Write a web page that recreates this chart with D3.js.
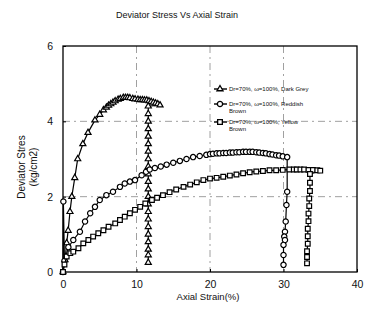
<!DOCTYPE html>
<html>
<script src="https://d3js.org/d3.v7.min.js"></script>
<style>
    body { margin: 0; background: #fff; }
    text { font-family: "Liberation Sans", Arial, sans-serif; fill: #111; }
</style>
<body>
</body>
<script>
    const width = 365,
        height = 322;

    // data: [axial strain %, deviator stress kg/cm2]
    const darkGrey = [[0,0],[0.27,0.32],[0.5,0.77],[0.7,1.1],[0.95,1.6],[1.2,2.0],[1.6,2.5],[2.0,3.0],[2.7,3.4],[3.4,3.7],
        [4.35,4.03],[5.0,4.18],[5.5,4.3],[5.9,4.37],[6.2,4.42],[6.5,4.46],[6.8,4.5],[7.1,4.54],[7.5,4.58],[7.8,4.6],
        [8.2,4.63],[8.5,4.63],[8.8,4.63],[9.1,4.62],[9.5,4.6],[9.8,4.59],[10.2,4.58],[10.5,4.57],[10.8,4.57],[11.1,4.56],
        [11.4,4.56],[11.7,4.54],[12.0,4.52],[12.3,4.5],[12.6,4.48],[12.9,4.46],[13.2,4.43],[11.6,4.4],[11.6,4.2],[11.6,4.0],
        [11.6,3.8],[11.6,3.6],[11.6,3.4],[11.6,3.2],[11.6,3.0],[11.6,2.8],[11.6,2.6],[11.6,2.4],[11.6,2.2],[11.6,2.0],
        [11.6,1.8],[11.6,1.6],[11.6,1.4],[11.6,1.2],[11.6,1.0],[11.6,0.8],[11.6,0.6],[11.6,0.45],[11.6,0.25]];
    const reddishBrown = [[0,0],[0.05,1.87],[0.2,0.3],[0.73,0.66],[1.4,0.85],[2.3,1.07],[3.0,1.34],[3.7,1.56],[4.35,1.73],
        [5.0,1.91],[5.9,2.04],[6.8,2.13],[7.75,2.26],[8.4,2.35],[9.1,2.4],[9.8,2.44],[10.7,2.57],[11.3,2.66],[11.8,2.72],
        [12.5,2.76],[13.3,2.8],[14.1,2.85],[15.0,2.9],[15.9,2.95],[16.8,3.0],[17.7,3.05],[18.6,3.08],[19.5,3.11],
        [20.0,3.13],[20.4,3.14],[20.9,3.15],[21.3,3.15],[21.8,3.16],[22.2,3.16],[22.7,3.17],[23.1,3.17],[23.6,3.18],
        [24.0,3.18],[24.5,3.19],[24.9,3.19],[25.4,3.19],[25.8,3.19],[26.3,3.18],[26.7,3.17],[27.2,3.16],[27.6,3.15],
        [28.1,3.13],[28.5,3.12],[29.0,3.1],[29.4,3.09],[29.9,3.07],[30.5,3.05],[30.5,2.13],[30.4,1.78],[30.3,1.34],
        [30.2,1.07],[30.1,0.94],[30.2,0.85],[30.0,0.72],[30.0,0.45],[30.0,0.19]];
    const yellowBrown = [[0,0],[0.2,0.2],[0.5,0.41],[1.0,0.5],[1.4,0.54],[2.1,0.63],[2.76,0.76],[3.45,0.85],[4.1,0.94],
        [4.8,1.03],[5.5,1.11],[6.2,1.2],[7.1,1.29],[7.75,1.38],[8.4,1.47],[9.1,1.56],[9.8,1.65],[10.5,1.73],[11.2,1.82],
        [12.1,1.91],[12.8,1.97],[13.6,2.04],[14.5,2.12],[15.4,2.19],[16.4,2.26],[17.3,2.32],[18.2,2.38],[19.1,2.44],
        [20.0,2.48],[20.9,2.5],[21.8,2.53],[22.7,2.56],[23.6,2.59],[24.5,2.62],[25.4,2.65],[26.3,2.67],[27.2,2.68],
        [28.1,2.7],[29.0,2.7],[29.9,2.71],[30.8,2.72],[31.4,2.72],[31.8,2.72],[32.3,2.72],[32.8,2.72],[33.4,2.71],
        [34.0,2.71],[34.6,2.7],[35.0,2.69],[33.6,2.6],[33.6,2.37],[33.6,2.15],[33.5,1.95],[33.5,1.75],[33.4,1.55],
        [33.4,1.35],[33.3,1.15],[33.3,0.95],[33.3,0.75],[33.2,0.55],[33.2,0.4],[33.2,0.23]];

    const xTicks = [0, 10, 20, 30, 40];
    const yTicks = [0, 2, 4, 6];
    const seriesNames = ["Dr=70%, \u03c9=100%, Dark Grey", "Dr=70%, \u03c9=100%, Reddish", "Dr=70%, \u03c9=100%, Yellow"];
    const seriesWrap = ["", "Brown", "Brown"];

    const svg = d3.select("body").append("svg").attr("width", width).attr("height", height);

    const x = d3.scaleLinear().domain([0, 40]).range([63, 357]);
    const y = d3.scaleLinear().domain([0, 6]).range([272, 46]);

    // title
    svg.append("text").attr("x", 177).attr("y", 18).attr("text-anchor", "middle")
        .attr("font-size", 9).text("Deviator Stress Vs Axial Strain");

    // grid (dash-dot)
    svg.append("g").selectAll("line").data([10, 20, 30]).join("line")
        .attr("x1", d => x(d)).attr("x2", d => x(d)).attr("y1", y(6)).attr("y2", y(0))
        .attr("stroke", "#888").attr("stroke-width", 0.8).attr("stroke-dasharray", "7,4,2,4");
    svg.append("g").selectAll("line").data([2, 4]).join("line")
        .attr("y1", d => y(d)).attr("y2", d => y(d)).attr("x1", x(0)).attr("x2", x(40))
        .attr("stroke", "#888").attr("stroke-width", 0.8).attr("stroke-dasharray", "7,4,2,4");

    // axes
    const xAxis = svg.append("g").attr("transform", `translate(0,${y(0)})`)
        .call(d3.axisBottom(x).tickValues(xTicks).tickFormat(d3.format("d")).tickSize(-3).tickPadding(9));
    const yAxis = svg.append("g").attr("transform", `translate(${x(0)},0)`)
        .call(d3.axisLeft(y).tickValues(yTicks).tickFormat(d3.format("d")).tickSize(-3).tickPadding(10));
    [xAxis, yAxis].forEach(a => {
        a.select(".domain").remove();
        a.selectAll("text").attr("font-size", 10.5).attr("font-family", "Liberation Sans, Arial, sans-serif");
    });
    svg.append("rect").attr("x", x(0)).attr("y", y(6)).attr("width", x(40) - x(0)).attr("height", y(0) - y(6))
        .attr("fill", "none").attr("stroke", "#000").attr("stroke-width", 1.3);

    // axis titles
    svg.append("text").attr("x", 208).attr("y", 300).attr("text-anchor", "middle")
        .attr("font-size", 9.5).text("Axial Strain(%)");
    svg.append("text").attr("transform", "translate(25,167) rotate(-90)").attr("text-anchor", "middle")
        .attr("font-size", 10).text("Deviator Stres");
    svg.append("text").attr("transform", "translate(37,167) rotate(-90)").attr("text-anchor", "middle")
        .attr("font-size", 10).text("(kg/cm2)");

    const symbols = [d3.symbolTriangle, d3.symbolCircle, d3.symbolSquare];
    const sizes = [16, 22, 22];
    const line = d3.line().x(d => x(d[0])).y(d => y(d[1]));

    [darkGrey, reddishBrown, yellowBrown].forEach((data, i) => {
        const g = svg.append("g");
        g.append("path").datum(data).attr("fill", "none").attr("stroke", "#000").attr("stroke-width", 1.2).attr("d", line);
        g.selectAll("path.m").data(data).join("path").attr("class", "m")
            .attr("transform", d => `translate(${x(d[0])},${y(d[1])})`)
            .attr("d", d3.symbol().type(symbols[i]).size(sizes[i]))
            .attr("fill", "#fff").attr("stroke", "#000").attr("stroke-width", 1.2);
    });

    // legend
    const legY = [89, 104, 122];
    const lg = svg.append("g");
    seriesNames.forEach((name, i) => {
        lg.append("line").attr("x1", 214).attr("x2", 227).attr("y1", legY[i]).attr("y2", legY[i])
            .attr("stroke", "#000").attr("stroke-width", 1.4);
        lg.append("path").attr("transform", `translate(220,${legY[i]})`)
            .attr("d", d3.symbol().type(symbols[i]).size(sizes[i]))
            .attr("fill", "#fff").attr("stroke", "#000").attr("stroke-width", 1.3);
        lg.append("text").attr("x", 229).attr("y", legY[i] + 2).attr("font-size", 6).text(name);
        if (seriesWrap[i]) {
            lg.append("text").attr("x", 229).attr("y", legY[i] + 9).attr("font-size", 6).text(seriesWrap[i]);
        }
    });
</script>
</html>
